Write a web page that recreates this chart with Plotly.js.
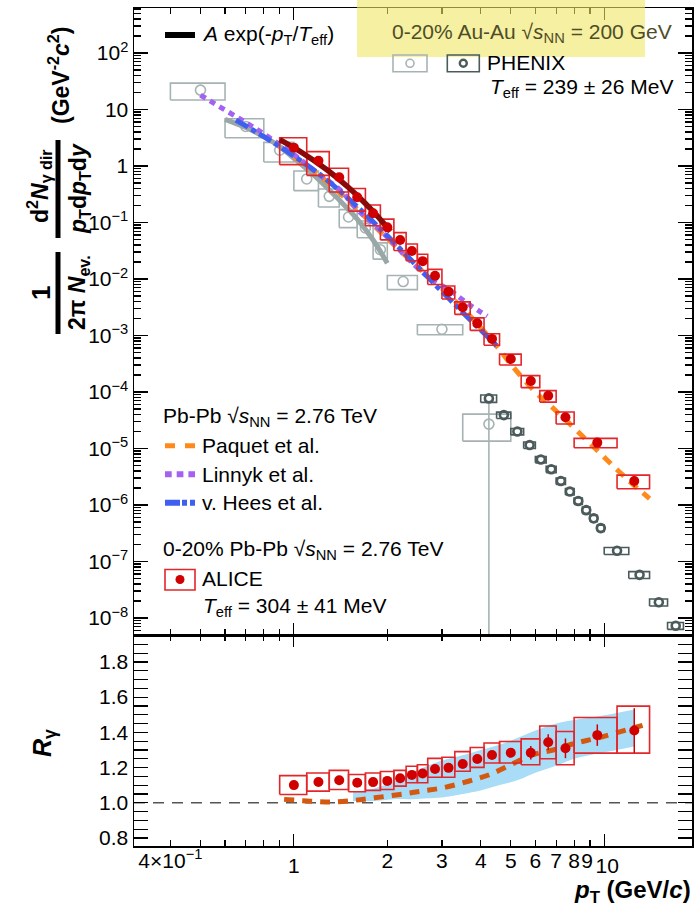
<!DOCTYPE html>
<html><head><meta charset="utf-8">
<script src="https://cdn.plot.ly/plotly-3.0.1.min.js"></script>
<style>html,body{margin:0;padding:0;background:#fff}#plot{width:694px;height:907px}</style>
</head><body><div id="plot"></div><script>
// ---------- ALICE Pb-Pb 2.76 TeV, 0-20% ----------
const alicePt   = [1.0,1.2,1.4,1.6,1.8,2.0,2.2,2.4,2.6,2.85,3.15,3.5,3.9,4.35,5.0,5.8,6.6,7.5,9.5,12.5];
const alicePtLo = [0.9,1.1,1.3,1.5,1.7,1.9,2.1,2.3,2.5,2.7,3.0,3.3,3.7,4.1,4.6,5.4,6.2,7.0,8.0,11.0];
const alicePtHi = [1.1,1.3,1.5,1.7,1.9,2.1,2.3,2.5,2.7,3.0,3.3,3.7,4.1,4.6,5.4,6.2,7.0,8.0,11.0,14.0];
const aliceYield = [2.11,1.24,0.63,0.279,0.146,0.082,0.049,0.0313,0.0207,0.0114,5.97e-3,3.15e-3,1.64e-3,8.7e-4,3.84e-4,1.57e-4,8.6e-5,3.56e-5,1.27e-5,2.66e-6];
const aliceYieldSysRel = [0.5,0.45,0.45,0.43,0.40,0.40,0.35,0.33,0.32,0.30,0.26,0.25,0.25,0.23,0.22,0.24,0.23,0.24,0.19,0.27];
const aliceYieldStatRel = [0.02,0.02,0.02,0.02,0.02,0.02,0.02,0.03,0.03,0.03,0.04,0.04,0.05,0.05,0.06,0.07,0.08,0.09,0.10,0.22];
// fit A exp(-pT/Teff)
const aliceFitPt = [0.9,1.0,1.1,1.2,1.3,1.4,1.5,1.6,1.7,1.8,1.9,2.0,2.05];
const aliceFitY  = [2.92,2.11,1.52,1.10,0.80,0.575,0.416,0.30,0.217,0.157,0.113,0.082,0.070];
// R_gamma
const rGamma     = [1.100,1.118,1.128,1.113,1.117,1.124,1.139,1.158,1.166,1.192,1.198,1.220,1.248,1.271,1.284,1.284,1.344,1.309,1.384,1.410];
const rGammaSysLo= [1.047,1.066,1.075,1.062,1.070,1.075,1.094,1.113,1.113,1.145,1.145,1.179,1.201,1.226,1.226,1.216,1.250,1.216,1.282,1.282];
const rGammaSysHi= [1.154,1.169,1.184,1.160,1.169,1.177,1.184,1.207,1.216,1.252,1.258,1.290,1.314,1.339,1.348,1.363,1.436,1.405,1.484,1.549];
const rGammaStat = [0.005,0.005,0.005,0.005,0.005,0.005,0.006,0.007,0.008,0.009,0.010,0.011,0.012,0.013,0.025,0.038,0.045,0.056,0.061,0.127];
// ---------- PHENIX Au-Au 200 GeV, 0-20% ----------
const phxLowPt   = [0.5,0.7,0.9,1.1,1.3,1.5,1.7,1.9,2.25,3.0,4.25];
const phxLowPtLo = [0.4,0.6,0.8,1.0,1.2,1.4,1.6,1.8,2.0,2.5,3.5];
const phxLowPtHi = [0.6,0.8,1.0,1.2,1.4,1.6,1.8,2.0,2.5,3.5,5.0];
const phxLowY    = [22,5.0,1.9,0.59,0.29,0.125,0.08,0.033,0.009,1.29e-3,2.7e-5];
const phxLowSysRel = [0.33,0.37,0.38,0.38,0.35,0.35,0.33,0.32,0.28,0.20,0.50];
const phxLowErrPlus  = [0,0,0,0,0,0,0,0,0,0,3.5e-5];
const phxLowErrMinus = [0,0,0,0,0,0,0,0,0,0,2.69999e-5];
const phxHighPt   = [4.25,4.75,5.25,5.75,6.25,6.75,7.25,7.75,8.25,8.75,9.25,9.75,11,13,15,17];
const phxHighPtLo = [4.0,4.5,5.0,5.5,6.0,6.5,7.0,7.5,8.0,8.5,9.0,9.5,10,12,14,16];
const phxHighPtHi = [4.5,5.0,5.5,6.0,6.5,7.0,7.5,8.0,8.5,9.0,9.5,10,12,14,16,18];
const phxHighY    = [7.7e-5,3.9e-5,2.0e-5,1.15e-5,6.4e-6,4.3e-6,2.66e-6,1.73e-6,1.18e-6,8.1e-7,5.8e-7,3.9e-7,1.55e-7,5.8e-8,1.9e-8,7.3e-9];
const phxHighSysRel = [0.15,0.13,0.13,0.13,0.13,0.13,0.13,0.13,0.13,0.13,0.13,0.13,0.14,0.14,0.14,0.14];
const phxFitPt = [0.6,0.7,0.8,0.9,1.0,1.2,1.4,1.6,1.8,2.0];
const phxFitY  = [6.7,4.8,3.3,2.2,1.37,0.58,0.25,0.115,0.049,0.019];
// ---------- Models ----------
const paquetPt = [1.0,1.2,1.5,2.0,2.5,3.0,3.5,4.0,4.5,5.0,6.0,7.0,8.0,10,12,14];
const paquetY  = [1.45,0.70,0.24,0.052,0.0165,0.0068,0.0030,0.00138,6.5e-4,3.1e-4,1.0e-4,4.6e-5,2.3e-5,7.0e-6,2.7e-6,1.3e-6];
const linnykPt = [0.5,0.6,0.7,0.8,0.9,1.0,1.2,1.4,1.6,1.8,2.0,2.2,2.5,2.8,3.2,3.6,4.0,4.2];
const linnykY  = [18,9.8,5.9,3.7,2.4,1.6,0.72,0.39,0.17,0.095,0.055,0.032,0.0158,0.0095,0.0062,0.0038,0.0026,0.0022];
const heesPt = [0.65,0.8,1.0,1.2,1.4,1.6,1.8,2.0,2.4,2.8,3.2,3.6,4.0,4.5];
const heesY  = [6.5,3.3,1.5,0.74,0.37,0.19,0.103,0.058,0.021,0.0088,0.0042,0.0022,0.00125,0.00066];
const paquetRPt = [0.93,1.13,1.32,1.55,1.82,2.2,2.58,3.03,3.65,4.28,5.0,5.9,6.9,8.1,9.5,11.8,13.8];
const paquetR   = [1.019,1.009,1.004,1.013,1.028,1.047,1.066,1.085,1.122,1.16,1.216,1.273,1.301,1.339,1.367,1.414,1.448];
const bandPt   = [1.55,1.8,2.1,2.4,2.7,3.0,3.5,4.0,4.6,5.3,6.0,7.0,8.0,9.5,11,12.5];
const bandRHi  = [1.06,1.08,1.12,1.17,1.21,1.24,1.27,1.30,1.33,1.37,1.41,1.45,1.47,1.49,1.51,1.53];
const bandRLo  = [1.01,1.01,1.02,1.02,1.025,1.03,1.05,1.07,1.10,1.13,1.17,1.21,1.25,1.28,1.30,1.32];
// ---------- ticks ----------
const xMajor = [1,10];
const xMajorText = ['1','\u00a010'];
const xMinor = [0.4,0.5,0.6,0.7,0.8,0.9,2,3,4,5,6,7,8,9];
const xMinorLabVals = [0.4,2,3,4,5,6,7,8,9];
const xMinorLabText = ['4×10<sup>−1</sup>','2','3','4','5','6','7','8','9\u00a0'];
const yDecades = [1e-8,1e-7,1e-6,1e-5,1e-4,1e-3,1e-2,1e-1,1,10,100];
const yDecadeText = ['10<sup>−8</sup>','10<sup>−7</sup>','10<sup>−6</sup>','10<sup>−5</sup>','10<sup>−4</sup>','10<sup>−3</sup>','10<sup>−2</sup>','10<sup>−1</sup>','1','10','10<sup>2</sup>'];
const rTicks = [0.8,1.0,1.2,1.4,1.6,1.8];
const rTickText = ['0.8','1.0','1.2','1.4','1.6','1.8'];

const yMinor=[]; for(let e=-9;e<=2;e++) for(let k=2;k<=9;k++) yMinor.push(k*Math.pow(10,e));

// ---------- helpers ----------
function boxes(xlo,xhi,ylo,yhi){const X=[],Y=[];for(let i=0;i<xlo.length;i++){X.push(xlo[i],xhi[i],xhi[i],xlo[i],xlo[i],null);Y.push(ylo[i],ylo[i],yhi[i],yhi[i],ylo[i],null);}return {X,Y};}
const W=694,H=907,ML=134,MR=2,MT=8,MB=61,PW=W-ML-MR,PH=H-MT-MB;
const px=x=>(x-ML)/PW, py=y=>(H-MB-y)/PH;
const split=(H-MB-635)/PH;
const FONT='Liberation Sans, Arial, sans-serif';

const cRed='#d10000', cRedBox='#e3262a', cLight='#a7b3b3', cDark='#4b5a5a';
const cOrange='#ff8a1c', cPurple='#a362f2', cBlue='#3f5ff0';

const aBox = boxes(alicePtLo,alicePtHi,aliceYield.map((v,i)=>v*(1-aliceYieldSysRel[i])),aliceYield.map((v,i)=>v*(1+aliceYieldSysRel[i])));
const lBox = boxes(phxLowPtLo,phxLowPtHi,phxLowY.map((v,i)=>v*(1-phxLowSysRel[i])),phxLowY.map((v,i)=>v*(1+phxLowSysRel[i])));
const hBox = boxes(phxHighPtLo,phxHighPtHi,phxHighY.map((v,i)=>v*(1-phxHighSysRel[i])),phxHighY.map((v,i)=>v*(1+phxHighSysRel[i])));
const rBox = boxes(alicePtLo,alicePtHi,rGammaSysLo,rGammaSysHi);

const traces = [
 // upper panel
 {x:lBox.X,y:lBox.Y,mode:'lines',line:{color:cLight,width:1.6},xaxis:'x',yaxis:'y',hoverinfo:'skip'},
 {x:phxLowPt,y:phxLowY,mode:'markers',marker:{symbol:'circle-open',size:10,color:cLight,line:{width:1.6,color:cLight}},
  error_y:{type:'data',symmetric:false,array:phxLowErrPlus,arrayminus:phxLowErrMinus,color:cLight,thickness:1.6,width:0},xaxis:'x',yaxis:'y'},
 {x:phxFitPt,y:phxFitY,mode:'lines',line:{color:'#9aa7a7',width:5,shape:'spline'},xaxis:'x',yaxis:'y'},
 {x:paquetPt,y:paquetY,mode:'lines',line:{color:cOrange,width:5,dash:'10px,8px',shape:'spline'},xaxis:'x',yaxis:'y'},
 {x:linnykPt,y:linnykY,mode:'lines',line:{color:cPurple,width:5,dash:'6px,5px',shape:'spline'},xaxis:'x',yaxis:'y'},
 {x:heesPt,y:heesY,mode:'lines',line:{color:cBlue,width:5,dash:'14px,4px,5px,4px',shape:'spline'},xaxis:'x',yaxis:'y'},
 {x:aBox.X,y:aBox.Y,mode:'lines',line:{color:cRedBox,width:1.6},xaxis:'x',yaxis:'y'},
 {x:aliceFitPt,y:aliceFitY,mode:'lines',line:{color:'#8a0a0a',width:5.5,shape:'spline'},xaxis:'x',yaxis:'y'},
 {x:alicePt,y:aliceYield,mode:'markers',marker:{symbol:'circle',size:10,color:cRed},
  error_y:{type:'data',array:aliceYield.map((v,i)=>v*aliceYieldStatRel[i]),color:cRed,thickness:1.5,width:0},xaxis:'x',yaxis:'y'},
 {x:hBox.X,y:hBox.Y,mode:'lines',line:{color:cDark,width:1.6},xaxis:'x',yaxis:'y'},
 {x:phxHighPt,y:phxHighY,mode:'markers',marker:{symbol:'circle-open',size:8,color:cDark,line:{width:2.6,color:cDark}},xaxis:'x',yaxis:'y'},
 // lower panel
 {x:bandPt,y:bandRLo,mode:'lines',line:{width:0,color:'rgba(0,0,0,0)',shape:'spline'},xaxis:'x2',yaxis:'y2'},
 {x:bandPt,y:bandRHi,mode:'lines',fill:'tonexty',fillcolor:'#a8dcf7',line:{width:0,color:'rgba(0,0,0,0)',shape:'spline'},xaxis:'x2',yaxis:'y2'},
 {x:paquetRPt,y:paquetR,mode:'lines',line:{color:'#d4580f',width:5,dash:'10px,8px',shape:'spline'},xaxis:'x2',yaxis:'y2'},
 {x:rBox.X,y:rBox.Y,mode:'lines',line:{color:cRedBox,width:1.6},xaxis:'x2',yaxis:'y2'},
 {x:alicePt,y:rGamma,mode:'markers',marker:{symbol:'circle',size:10,color:cRed},
  error_y:{type:'data',array:rGammaStat,color:cRed,thickness:1.5,width:0},xaxis:'x2',yaxis:'y2'},
 {x:[1],y:[1],mode:'markers',marker:{opacity:0},xaxis:'x3',yaxis:'y2',hoverinfo:'skip'}
];

const axBase = {showline:true,linecolor:'#000',linewidth:1.5,mirror:'allticks',ticks:'inside',tickcolor:'#000',tickwidth:1.2,showgrid:false,zeroline:false,tickfont:{family:FONT,size:21,color:'#000'}};
const xr=[-0.5152,1.2829];
const layout = {
 width:W,height:H,margin:{l:ML,r:MR,t:MT,b:MB},paper_bgcolor:'#fff',plot_bgcolor:'rgba(0,0,0,0)',showlegend:false,
 font:{family:FONT,size:21,color:'#000'},
 xaxis:Object.assign({},axBase,{type:'log',range:xr,domain:[0,1],anchor:'y',tickvals:xMajor,ticklen:12,showticklabels:false,
   minor:{tickvals:xMinor,ticks:'inside',ticklen:6,tickwidth:1.2,tickcolor:'#000'}}),
 xaxis2:Object.assign({},axBase,{type:'log',range:xr,domain:[0,1],anchor:'y2',tickvals:xMajor,ticktext:xMajorText,ticklen:12,tickangle:0,
   minor:{tickvals:xMinor,ticks:'inside',ticklen:6,tickwidth:1.2,tickcolor:'#000'}}),
 xaxis3:{type:'log',range:xr,overlaying:'x2',anchor:'y2',side:'bottom',tickvals:xMinorLabVals,ticktext:xMinorLabText,ticks:'',showline:false,showgrid:false,zeroline:false,tickangle:0,
   tickfont:{family:FONT,size:21,color:'#000'}},
 yaxis:Object.assign({},axBase,{type:'log',range:[-8.301,2.796],domain:[split,1],anchor:'x',tickvals:yDecades,ticktext:yDecadeText,ticklen:14,
   minor:{tickvals:yMinor,ticks:'inside',ticklen:7,tickwidth:1.2,tickcolor:'#000'}}),
 yaxis2:Object.assign({},axBase,{range:[0.754,1.953],domain:[0,split],anchor:'x2',tickvals:rTicks,ticktext:rTickText,ticklen:14,
   minor:{dtick:0.05,tick0:0,ticks:'inside',ticklen:7,tickwidth:1.2,tickcolor:'#000'}}),
 shapes:[
  {type:'line',xref:'x2 domain',yref:'y2',x0:0,x1:1,y0:1,y1:1,line:{color:'#555',width:1.5,dash:'11px,8px'},layer:'below'},
  {type:'rect',xref:'paper',yref:'paper',x0:px(357),x1:px(645),y0:py(57),y1:py(-2),fillcolor:'rgba(238,230,100,0.6)',line:{width:0},layer:'above'},
  // legend samples
  {type:'line',xref:'paper',yref:'paper',x0:px(165),x1:px(195),y0:py(35),y1:py(35),line:{color:'#000',width:6}},
  {type:'rect',xref:'paper',yref:'paper',x0:px(393),x1:px(427),y0:py(55),y1:py(71.7),line:{color:cLight,width:1.6}},
  {type:'circle',xref:'paper',yref:'paper',xsizemode:'pixel',ysizemode:'pixel',xanchor:px(410),yanchor:py(63.3),x0:-4,x1:4,y0:-4,y1:4,line:{color:cLight,width:1.6}},
  {type:'rect',xref:'paper',yref:'paper',x0:px(447.3),x1:px(479.3),y0:py(55),y1:py(71.7),line:{color:cDark,width:1.6}},
  {type:'circle',xref:'paper',yref:'paper',xsizemode:'pixel',ysizemode:'pixel',xanchor:px(463.3),yanchor:py(63.3),x0:-3.5,x1:3.5,y0:-3.5,y1:3.5,line:{color:cDark,width:2.4}},
  {type:'line',xref:'paper',yref:'paper',x0:px(165),x1:px(195),y0:py(445.7),y1:py(445.7),line:{color:cOrange,width:5,dash:'10px,10px'}},
  {type:'line',xref:'paper',yref:'paper',x0:px(165),x1:px(195),y0:py(474.3),y1:py(474.3),line:{color:cPurple,width:6,dash:'6.7px,5px'}},
  {type:'line',xref:'paper',yref:'paper',x0:px(165),x1:px(195),y0:py(502.7),y1:py(502.7),line:{color:cBlue,width:6,dash:'15px,2px,5px,3px'}},
  {type:'rect',xref:'paper',yref:'paper',x0:px(165),x1:px(195),y0:py(569.5),y1:py(590),line:{color:cRedBox,width:1.6}},
  {type:'circle',xref:'paper',yref:'paper',xsizemode:'pixel',ysizemode:'pixel',xanchor:px(180),yanchor:py(579.5),x0:-4.5,x1:4.5,y0:-4.5,y1:4.5,fillcolor:cRed,line:{width:0}},
  // y-title fraction bars
  {type:'line',xref:'paper',yref:'paper',x0:px(58),x1:px(58),y0:py(140),y1:py(238),line:{color:'#000',width:5}},
  {type:'line',xref:'paper',yref:'paper',x0:px(58),x1:px(58),y0:py(252),y1:py(334),line:{color:'#000',width:5}}
 ],
 annotations:[]
};
function ann(text,x,y,opt){layout.annotations.push(Object.assign({text:text,xref:'paper',yref:'paper',x:px(x),y:py(y),xanchor:'left',yanchor:'middle',showarrow:false,font:{family:FONT,size:21,color:'#000'}},opt||{}));}
ann('<i>A</i> exp(-<i>p</i><sub>T</sub>/<i>T</i><sub>eff</sub>)',200,35);
ann('0-20% Au-Au √<i>s</i><sub>NN</sub> = 200 GeV',390,33.3,{font:{family:FONT,size:21,color:'#4f4d26'}});
ann('PHENIX',485,63);
ann('<i>T</i><sub>eff</sub> = 239 ± 26 MeV',488,88);
ann('Pb-Pb √<i>s</i><sub>NN</sub> = 2.76 TeV',161,416.7);
ann('Paquet et al.',200,445.7);
ann('Linnyk et al.',200,474.3);
ann('v. Hees et al.',200,502.7);
ann('0-20% Pb-Pb √<i>s</i><sub>NN</sub> = 2.76 TeV',161,550);
ann('ALICE',200,578.3);
ann('<i>T</i><sub>eff</sub> = 304 ± 41 MeV',201,606.7);
ann('<b><i>p</i><sub>T</sub> (GeV/<i>c</i>)</b>',693,892,{xanchor:'right',font:{family:FONT,size:24,color:'#000'}});
ann('<b><i>R</i><sub>γ</sub></b>',44,743,{xanchor:'center',textangle:-90,font:{family:FONT,size:25,color:'#000'}});
// y title
const TF={family:FONT,size:23,color:'#000'};
ann('<b>(GeV<sup>-2</sup><i>c</i><sup>2</sup>)</b>',59,76,{xanchor:'center',textangle:-90,font:TF});
ann('<b>d<sup>2</sup><i>N</i><sub>γ dir</sub></b>',39,186,{xanchor:'center',textangle:-90,font:TF});
ann('<b><i>p</i><sub>T</sub>d<i>p</i><sub>T</sub>d<i>y</i></b>',79,189,{xanchor:'center',textangle:-90,font:TF});
ann('<b>1</b>',41,293,{xanchor:'center',textangle:-90,font:{family:FONT,size:26,color:'#000'}});
ann('<b>2π <i>N</i><sub>ev.</sub></b>',78,293,{xanchor:'center',textangle:-90,font:TF});

Plotly.newPlot('plot',traces,layout,{staticPlot:true,displayModeBar:false});
</script></body></html>
